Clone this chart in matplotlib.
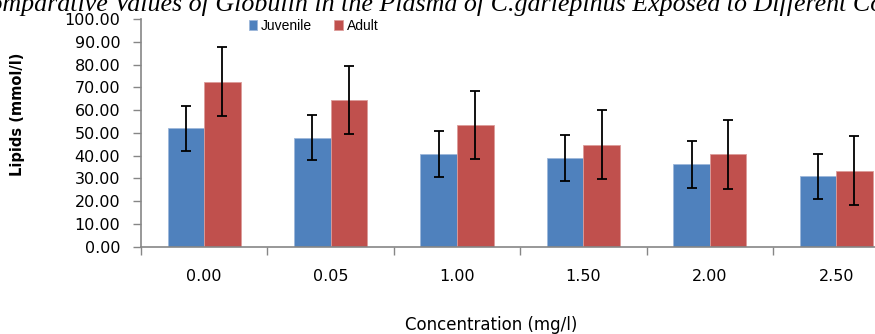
import matplotlib
matplotlib.use("Agg")
import matplotlib.pyplot as plt
import numpy as np

# values
concentrations = ["0.00", "0.05", "1.00", "1.50", "2.00", "2.50"]
juvenile = [52.0, 47.9, 40.8, 39.0, 36.2, 30.9]
juvenile_err = [9.9, 9.8, 10.1, 10.1, 10.3, 10.0]
adult = [72.4, 64.4, 53.3, 44.8, 40.6, 33.4]
adult_err = [15.1, 14.9, 15.0, 15.1, 15.2, 15.2]

plt.rcParams['font.family'] = ['DejaVu Sans']

W, H = 875, 334
fig = plt.figure(figsize=(W / 100, H / 100), dpi=100)
# axes deliberately runs past the right edge, like the cropped original
ax = fig.add_axes([141 / W, (H - 246.7) / H, 758.4 / W, (246.7 - 19) / H])

x = np.arange(len(concentrations))
w = 0.289
err_kw = dict(ecolor="black", elinewidth=1.3, capsize=3.6, capthick=1.3)
ax.bar(x - w / 2, juvenile, w, yerr=juvenile_err, color="#4F81BD",
       edgecolor="#9DB7DA", linewidth=0.6, label="Juvenile", error_kw=err_kw, zorder=2)
ax.bar(x + w / 2, adult, w, yerr=adult_err, color="#C0504D",
       edgecolor="#DC9C9A", linewidth=0.6, label="Adult", error_kw=err_kw, zorder=2)

ax.set_xlim(-0.5, len(concentrations) - 0.5)
ax.set_ylim(0, 100)
ax.set_yticks(np.arange(0, 101, 10))
ax.set_yticklabels(["%.2f" % v for v in np.arange(0, 101, 10)], fontsize=11.5)
ax.set_xticks(x)
ax.set_xticklabels(concentrations, fontsize=11.5)
ax.set_xticks(np.arange(-0.5, len(concentrations)), minor=True)
ax.tick_params(axis="x", which="major", length=0, pad=16)
ax.tick_params(axis="x", which="minor", length=6, color="#868686", width=1)
ax.tick_params(axis="y", length=6, color="#868686", width=1, pad=9)

for s in ["top", "right"]:
    ax.spines[s].set_visible(False)
for s in ["left", "bottom"]:
    ax.spines[s].set_color("#868686")
    ax.spines[s].set_linewidth(1.2)

ax.set_ylabel("Lipids (mmol/l)", fontsize=10.5, fontweight="bold")
ax.yaxis.set_label_coords(-(141 - 25) / 758.4, (246.7 - 114) / 227.7)
fig.text(491 / W, 1 - 325 / H, "Concentration (mg/l)", fontsize=12,
         ha="center", va="center")

leg = fig.legend(loc="center left", bbox_to_anchor=(243 / W, 1 - 26 / H), ncol=2,
                 frameon=False, prop={"family": "Liberation Sans", "size": 10},
                 handlelength=0.6, handleheight=0.7,
                 handletextpad=0.3, columnspacing=1.6, borderaxespad=0)

fig.text(-28 / W, 1 - 11 / H,
         "Comparative Values of Globulin in the Plasma of C.gariepinus Exposed to Different Concentrations",
         fontsize=18.7, style="italic", family="Liberation Serif", ha="left", va="baseline")

fig.savefig("out.png", dpi=100)
